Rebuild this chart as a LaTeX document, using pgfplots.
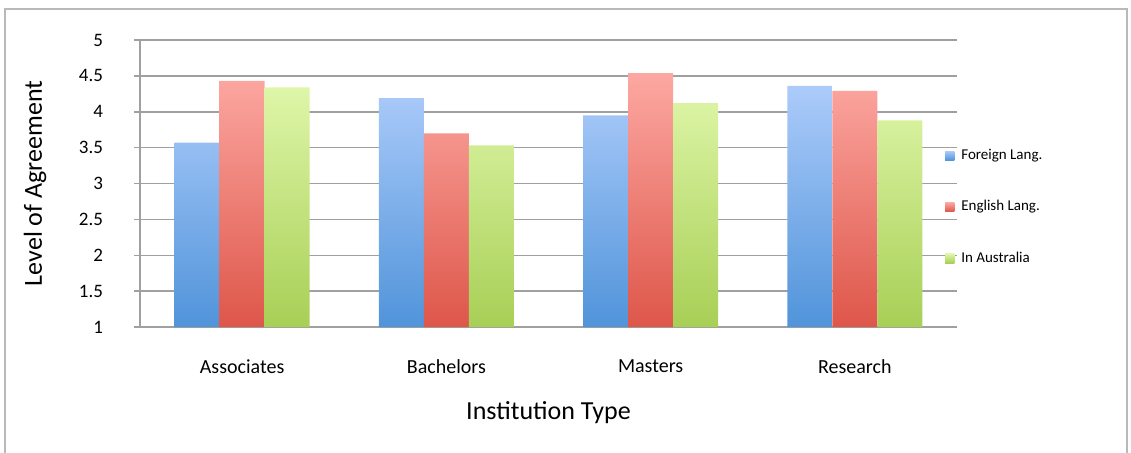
\documentclass[border=0pt]{standalone}
\usepackage{pgfplots}
\pgfplotsset{compat=1.18}
\usepackage{fontspec}
\setmainfont{Carlito}

\definecolor{bluetop}{RGB}{172,203,250}
\definecolor{bluebot}{RGB}{80,148,218}
\definecolor{redtop}{RGB}{252,168,162}
\definecolor{redbot}{RGB}{222,86,74}
\definecolor{greentop}{RGB}{222,246,168}
\definecolor{greenbot}{RGB}{168,207,86}
\definecolor{gridc}{RGB}{160,160,160}
\definecolor{framec}{RGB}{185,185,185}

\begin{document}
\begin{tikzpicture}[x=0.5pt,y=0.5pt]
\useasboundingbox (0,0) rectangle (1131,452);
\draw[framec, line width=1pt] (5,-20) -- (5,443) -- (1127,443) -- (1127,-20);
\begin{axis}[
    at={(70pt,62.5pt)}, anchor=south west,
    scale only axis, width=408.5pt, height=143.5pt,
    xmin=-0.5, xmax=3.5, ymin=1, ymax=5,
    ybar=0pt, bar width=22.5pt,
    xtick={0,1,2,3},
    xticklabels={Associates,Bachelors,Masters,Research},
    major x tick style={draw=none},
    extra x ticks={-0.5,0.5,1.5,2.5,3.5},
    extra x tick labels={},
    extra x tick style={grid=none, major tick length=3pt, tick style={gridc, line width=0.75pt}},
    ytick={1,1.5,...,5},
    ymajorgrids, grid style={gridc, line width=0.75pt},
    axis x line*=bottom, axis y line*=left,
    axis line style={gridc, line width=0.75pt, -},
    tick align=outside, major tick length=3pt,
    tick style={gridc, line width=0.75pt},
    /pgf/number format/assume math mode=true,
    yticklabel style={font=\fontsize{9.5}{11}\selectfont, xshift=-12pt},
    xticklabel style={font=\fontsize{10}{12}\selectfont, yshift=-10pt},
    xlabel={Institution Type},
    ylabel={Level of Agreement},
    every axis x label/.style={at={([yshift=-43pt]rel axis cs:0.5,0)}, anchor=center, font=\fontsize{13}{15}\selectfont},
    every axis y label/.style={at={([xshift=-52.5pt]rel axis cs:0,0.5)}, anchor=center, rotate=90, font=\fontsize{13}{15}\selectfont},
    legend style={at={(0.985,0.418)}, anchor=west, draw=none, fill=none,
        font=\fontsize{7.5}{9}\selectfont, row sep=15pt, inner xsep=0pt},
    legend cell align=left,
    legend image code/.code={\fill[#1] (0pt,-2.3pt) rectangle (4.6pt,2.3pt);},
    legend style={nodes={inner xsep=3.5pt}},
]
\addplot[draw=none, top color=bluetop, bottom color=bluebot] coordinates {
    (0,3.57) (1,4.19) (2,3.95) (3,4.36)
};
\addlegendentry{Foreign Lang.}
\addplot[draw=none, top color=redtop, bottom color=redbot] coordinates {
    (0,4.43) (1,3.70) (2,4.54) (3,4.29)
};
\addlegendentry{English Lang.}
\addplot[draw=none, top color=greentop, bottom color=greenbot] coordinates {
    (0,4.34) (1,3.53) (2,4.12) (3,3.88)
};
\addlegendentry{In Australia}
\end{axis}
\end{tikzpicture}
\end{document}
